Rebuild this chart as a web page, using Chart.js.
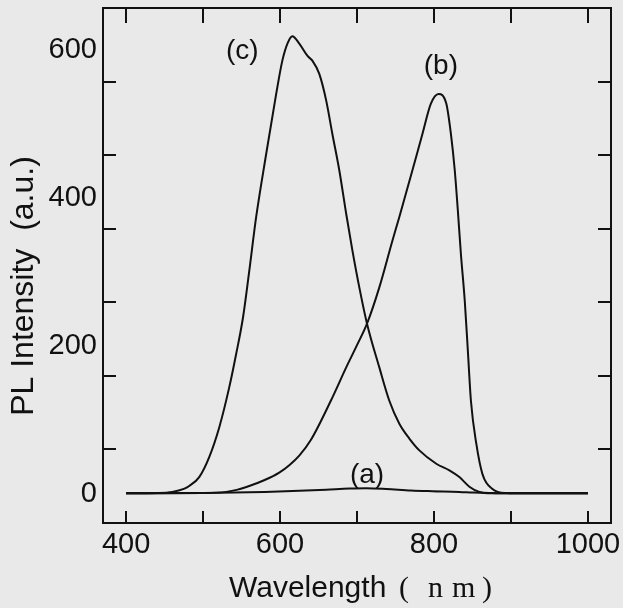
<!DOCTYPE html>
<html lang="en">
<head>
    <meta charset="UTF-8">
    <title>PL Intensity</title>
    <script src="https://cdn.jsdelivr.net/npm/chart.js"></script>
    <style>
        html, body { margin: 0; padding: 0; background: #e9e9e9; }
        #wrap { width: 623px; height: 608px; }
    </style>
</head>
<body>
    <div id="wrap">
        <canvas id="plChart" width="623" height="608"></canvas>
    </div>
    <script>
        // spectra (wavelength nm, intensity a.u.)
        const wlA = [400, 500, 540, 580, 625, 660, 690, 712, 738, 770, 798, 833, 850, 870, 900, 1000];
        const intA = [0, 0.5, 1, 2, 3.5, 5, 6.5, 7, 6, 4, 3, 2, 1, 0.3, 0, 0];

        const wlB = [400, 500, 530, 545, 560, 580, 599, 612, 625, 640, 666, 686, 700, 713, 729, 746, 755, 772, 785, 796, 806, 816, 822, 827, 831, 835, 840, 844, 848, 855, 863, 876, 894, 920, 1000];
        const intB = [0, 0.5, 2, 5, 10, 18, 28, 38, 51, 72, 125, 170, 200, 229, 278, 341, 373, 436, 485, 526, 539, 526, 485, 436, 382, 323, 260, 193, 125, 67, 26, 6, 0.5, 0, 0];

        const wlC = [400, 440, 460, 475, 482, 495, 508, 521, 534, 543, 552, 560, 569, 582, 595, 603, 610, 616, 625, 636, 642, 651, 660, 668, 677, 686, 694, 703, 713, 729, 742, 755, 768, 781, 803, 820, 833, 846, 859, 875, 900, 1000];
        const intC = [0, 0.5, 2, 6, 10, 22, 49, 89, 143, 188, 238, 300, 373, 458, 539, 584, 608, 617, 607, 590, 584, 566, 530, 485, 436, 377, 328, 278, 229, 170, 125, 94, 74, 58, 40, 31, 22, 9, 2, 0.5, 0, 0];

        // curve labels: text, wavelength, intensity
        const curveLabels = [['(c)', 551, 596], ['(b)', 809, 576], ['(a)', 713, 24]];

        const xTicks = [400, 600, 800, 1000];
        const yTicks = [0, 200, 400, 600];

        const sans = "'Liberation Sans', Arial, sans-serif";
        const serif = "'Liberation Serif', 'Times New Roman', serif";
        const ink = '#111';

        function pts(xs, ys) {
            return xs.map((x, i) => ({ x: x, y: ys[i] }));
        }

        function lineSet(label, xs, ys) {
            return {
                label: label,
                data: pts(xs, ys),
                borderColor: ink,
                borderWidth: 2,
                pointRadius: 0,
                fill: false,
                cubicInterpolationMode: 'monotone'
            };
        }

        // frame, inward ticks, curve labels and axis titles
        const framePlugin = {
            id: 'frame',
            afterDraw(chart) {
                const ctx = chart.ctx;
                const a = chart.chartArea;
                const xs = chart.scales.x;
                const ys = chart.scales.y;
                ctx.save();
                ctx.strokeStyle = ink;
                ctx.lineWidth = 2;
                ctx.strokeRect(a.left, a.top, a.right - a.left, a.bottom - a.top);
                ctx.beginPath();
                xs.ticks.forEach(t => {
                    const px = Math.round(xs.getPixelForValue(t.value));
                    ctx.moveTo(px, a.bottom); ctx.lineTo(px, a.bottom - 12);
                    ctx.moveTo(px, a.top); ctx.lineTo(px, a.top + 15);
                });
                ys.ticks.forEach(t => {
                    const py = Math.round(ys.getPixelForValue(t.value));
                    ctx.moveTo(a.left, py); ctx.lineTo(a.left + 13, py);
                    ctx.moveTo(a.right, py); ctx.lineTo(a.right - 13, py);
                });
                ctx.stroke();

                ctx.fillStyle = ink;

                // y tick labels
                ctx.font = '29px ' + sans;
                ctx.textAlign = 'right';
                ctx.textBaseline = 'middle';
                yTicks.forEach(v => {
                    ctx.fillText(String(v), a.left - 6, ys.getPixelForValue(v) + 1);
                });

                ctx.font = '28px ' + sans;
                ctx.textAlign = 'center';
                curveLabels.forEach(l => {
                    ctx.fillText(l[0], xs.getPixelForValue(l[1]), ys.getPixelForValue(l[2]));
                });

                // x title: sans word, serif unit with wide spacing
                const cx = (a.left + a.right) / 2;
                const x0 = cx - 128;
                ctx.textBaseline = 'alphabetic';
                ctx.textAlign = 'left';
                ctx.font = '30px ' + sans;
                ctx.fillText('Wavelength', x0, 597);
                ctx.font = '30px ' + serif;
                ctx.fillText('(', x0 + 170, 597);
                ctx.fillText('n', x0 + 199, 597);
                ctx.fillText('m', x0 + 223, 597);
                ctx.fillText(')', x0 + 253, 597);

                // y title
                ctx.translate(33, 286);
                ctx.rotate(-Math.PI / 2);
                ctx.textAlign = 'center';
                ctx.font = '32px ' + sans;
                ctx.fillText('PL Intensity  (a.u.)', 0, 0);
                ctx.restore();
            }
        };

        const canvas = document.getElementById('plChart');
        const plChart = new Chart(canvas.getContext('2d'), {
            type: 'line',
            data: {
                datasets: [
                    lineSet('(a)', wlA, intA),
                    lineSet('(b)', wlB, intB),
                    lineSet('(c)', wlC, intC)
                ]
            },
            options: {
                responsive: false,
                animation: false,
                layout: { padding: { top: 8, right: 12, left: 0, bottom: 0 } },
                plugins: { legend: { display: false }, tooltip: { enabled: false } },
                scales: {
                    x: {
                        type: 'linear',
                        min: 370,
                        max: 1030,
                        grid: { display: false, drawTicks: false },
                        border: { display: false },
                        ticks: {
                            stepSize: 100,
                            includeBounds: false,
                            autoSkip: false,
                            maxRotation: 0,
                            padding: 5,
                            color: ink,
                            font: { size: 29, family: sans },
                            callback: v => xTicks.includes(v) ? String(v) : ''
                        },
                        afterFit: s => {
                            s.height = 85;
                            s.paddingLeft = 0;
                            s.paddingRight = 0;
                        }
                    },
                    y: {
                        min: -40,
                        max: 655,
                        grid: { display: false, drawTicks: false },
                        border: { display: false },
                        ticks: {
                            stepSize: 100,
                            includeBounds: false,
                            autoSkip: false,
                            display: false
                        },
                        afterFit: s => {
                            s.width = 103;
                            s.paddingTop = 0;
                            s.paddingBottom = 0;
                        }
                    }
                }
            },
            plugins: [framePlugin]
        });
    </script>
</body>
</html>
